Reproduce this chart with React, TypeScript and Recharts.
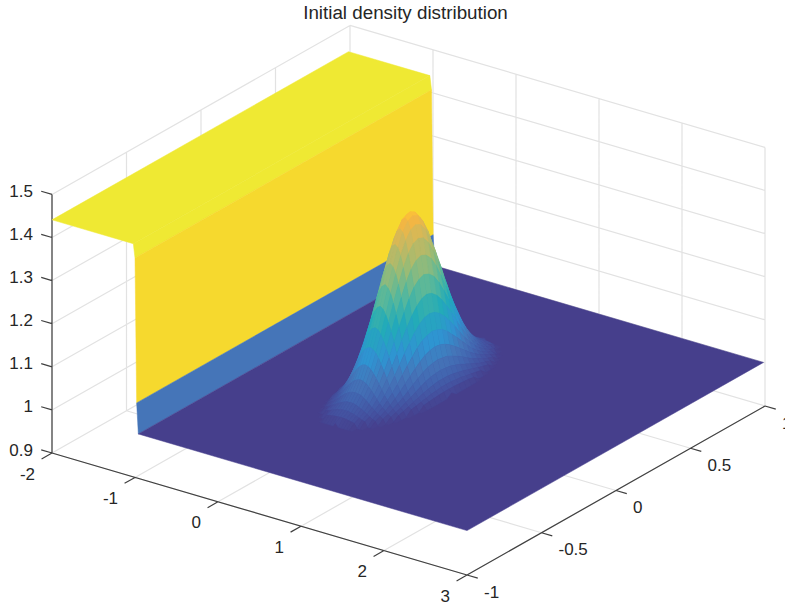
import React from 'react';
import { ScatterChart, Scatter, XAxis, YAxis } from 'recharts';

const title = 'Initial density distribution';
const xTicks = [-2, -1, 0, 1, 2, 3];
const yTicks = [-1, -0.5, 0, 0.5, 1];
const zTicks = [0.9, 1, 1.1, 1.2, 1.3, 1.4, 1.5];

// step profile of the surface along x (same for every y)
const stepX = [-2, -1.02, -1, -0.98, -0.96, 3];
const stepZ = [1.441, 1.441, 1.409, 1.074, 1.003, 1.003];
const surfaceY = [-1, 0.99];

// the bump is round, so one quarter of it is enough: rise above the flat part in 1/1000,
// rows going away from the centre along x, columns along y
const bumpCenter = { x: 0.5, y: 0.01 };
const bumpOffsets = [0, 0.033, 0.067, 0.1, 0.133, 0.167, 0.2, 0.233, 0.267, 0.3, 0.333, 0.367, 0.4, 0.433, 0.467, 0.5];
const bumpQuarter = [
  [400, 393, 374, 344, 306, 264, 220, 177, 138, 104, 76, 53, 36, 24, 15, 9],
  [393, 387, 368, 339, 301, 259, 216, 174, 135, 102, 74, 52, 36, 24, 15, 0],
  [374, 368, 350, 322, 287, 247, 205, 165, 129, 97, 71, 50, 34, 22, 14, 0],
  [344, 339, 322, 296, 264, 227, 189, 152, 119, 89, 65, 46, 31, 21, 13, 0],
  [306, 301, 287, 264, 235, 202, 168, 135, 105, 79, 58, 41, 28, 18, 12, 0],
  [264, 259, 247, 227, 202, 174, 145, 117, 91, 68, 50, 35, 24, 16, 10, 0],
  [220, 216, 205, 189, 168, 145, 120, 97, 76, 57, 41, 29, 20, 13, 0, 0],
  [177, 174, 165, 152, 135, 117, 97, 78, 61, 46, 33, 24, 16, 11, 0, 0],
  [138, 135, 129, 119, 105, 91, 76, 61, 47, 36, 26, 18, 12, 0, 0, 0],
  [104, 102, 97, 89, 79, 68, 57, 46, 36, 27, 20, 14, 9, 0, 0, 0],
  [76, 74, 71, 65, 58, 50, 41, 33, 26, 20, 14, 10, 0, 0, 0, 0],
  [53, 52, 50, 46, 41, 35, 29, 24, 18, 14, 10, 0, 0, 0, 0, 0],
  [36, 36, 34, 31, 28, 24, 20, 16, 12, 9, 0, 0, 0, 0, 0, 0],
  [24, 24, 22, 21, 18, 16, 13, 11, 0, 0, 0, 0, 0, 0, 0, 0],
  [15, 15, 14, 13, 12, 10, 0, 0, 0, 0, 0, 0, 0, 0, 0, 0],
  [9, 0, 0, 0, 0, 0, 0, 0, 0, 0, 0, 0, 0, 0, 0, 0],
];
const bumpBase = 1.003;

// colour ramp as it looks in the picture
const rampZ = [1.003, 1.02, 1.05, 1.074, 1.12, 1.18, 1.24, 1.3, 1.35, 1.392, 1.409, 1.441];
const rampColors = ['#463f8c', '#44519f', '#4268b2', '#4575b8', '#2f94d2', '#22abb8', '#5ab89a', '#a0bb72', '#d0b85c', '#fbb63e', '#f6d92e', '#efe933'];

const toRgb = (hex: string) => [1, 3, 5].map(i => parseInt(hex.slice(i, i + 2), 16));
const colorOf = (z: number) => {
  if (z <= rampZ[0]) return rampColors[0];
  for (let i = 1; i < rampZ.length; i++) {
    if (z <= rampZ[i]) {
      const t = (z - rampZ[i - 1]) / (rampZ[i] - rampZ[i - 1]);
      const a = toRgb(rampColors[i - 1]);
      const b = toRgb(rampColors[i]);
      return `rgb(${a.map((c, k) => Math.round(c + (b[k] - c) * t)).join(',')})`;
    }
  }
  return rampColors[rampColors.length - 1];
};

// the view of the 3D box, orthographic
const project = (x: number, y: number, z: number) => ({
  u: 52 + 83 * (x + 2) + 149 * (y + 1),
  v: 453 + 24.4 * (x + 2) - 84.5 * (y + 1) - 431 * (z - 0.9),
});

const noDot = () => <g />;
const fontFamily = '"Liberation Sans", Arial, sans-serif';

type Pt = { u: number; v: number; label?: string };

// pairs of points drawn as separate line segments
const segments = (key: string, pts: Pt[], stroke: string, width: number) => (
  <Scatter
    key={key}
    data={pts}
    isAnimationActive={false}
    shape={noDot}
    line={({ points }: any) => (
      <path
        d={points.reduce((d: string, p: any, i: number) => `${d}${i % 2 ? 'L' : 'M'}${p.x} ${p.y}`, '')}
        stroke={stroke}
        strokeWidth={width}
        fill="none"
      />
    )}
  />
);

// groups of four points drawn as filled faces
const faces = (key: string, pts: Pt[], colors: string[]) => (
  <Scatter
    key={key}
    data={pts}
    isAnimationActive={false}
    shape={noDot}
    line={({ points }: any) => (
      <g>
        {colors.map((c, i) => (
          <polygon
            key={i}
            points={points.slice(i * 4, i * 4 + 4).map((p: any) => `${p.x},${p.y}`).join(' ')}
            fill={c}
            stroke={c}
            strokeWidth={0.5}
          />
        ))}
      </g>
    )}
  />
);

const labels = (key: string, pts: Pt[], anchor: string, dx: number, dy: number, size: number) => (
  <Scatter
    key={key}
    data={pts}
    isAnimationActive={false}
    shape={(p: any) => (
      <text
        x={p.cx + dx}
        y={p.cy + dy}
        textAnchor={anchor}
        dominantBaseline="central"
        fontFamily={fontFamily}
        fontSize={size}
        fill="#262626"
      >
        {p.payload.label}
      </text>
    )}
  />
);

const gridPts: Pt[] = [];
const addSeg = (a: number[], b: number[]) => {
  gridPts.push(project(a[0], a[1], a[2]), project(b[0], b[1], b[2]));
};
zTicks.forEach(z => {
  addSeg([-2, -1, z], [-2, 1, z]);
  addSeg([-2, 1, z], [3, 1, z]);
});
xTicks.forEach(x => {
  addSeg([x, -1, 0.9], [x, 1, 0.9]);
  addSeg([x, 1, 0.9], [x, 1, 1.5]);
});
yTicks.forEach(y => {
  addSeg([-2, y, 0.9], [3, y, 0.9]);
  addSeg([-2, y, 0.9], [-2, y, 1.5]);
});

const axisPts: Pt[] = [
  project(-2, -1, 0.9), project(3, -1, 0.9),
  project(3, -1, 0.9), project(3, 1, 0.9),
  project(-2, -1, 0.9), project(-2, -1, 1.5),
];
xTicks.forEach(x => axisPts.push(project(x, -1, 0.9), project(x, -1.07, 0.9)));
yTicks.forEach(y => axisPts.push(project(3, y, 0.9), project(3.13, y, 0.9)));
zTicks.forEach(z => axisPts.push(project(-2, -1, z), project(-2.13, -1, z)));

const stepPts: Pt[] = [];
const stepColors: string[] = [];
stepX.slice(0, -1).forEach((x, i) => {
  stepPts.push(
    project(x, surfaceY[0], stepZ[i]),
    project(stepX[i + 1], surfaceY[0], stepZ[i + 1]),
    project(stepX[i + 1], surfaceY[1], stepZ[i + 1]),
    project(x, surfaceY[1], stepZ[i]),
  );
  stepColors.push(colorOf(stepZ[i]));
});

// signed index along one side of the bump: -15 .. 15
const steps = bumpOffsets.slice(1).map((_, i) => -(15 - i)).concat(bumpOffsets.map((_, i) => i));
const coord = (s: number) => (s < 0 ? -bumpOffsets[-s] : bumpOffsets[s]);
const rise = (a: number, b: number) => bumpBase + bumpQuarter[Math.abs(a)][Math.abs(b)] / 1000;

// far side first so the near faces cover it
const bumpPts: Pt[] = [];
const bumpColors: string[] = [];
for (let i = 0; i < steps.length - 1; i++) {
  for (let j = steps.length - 2; j >= 0; j--) {
    const [a0, a1, b0, b1] = [steps[i], steps[i + 1], steps[j], steps[j + 1]];
    const corners = [rise(a0, b0), rise(a1, b0), rise(a1, b1), rise(a0, b1)];
    if (Math.max(...corners) <= bumpBase) continue;
    const x0 = bumpCenter.x + coord(a0);
    const x1 = bumpCenter.x + coord(a1);
    const y0 = bumpCenter.y + coord(b0);
    const y1 = bumpCenter.y + coord(b1);
    bumpPts.push(
      project(x0, y0, corners[0]),
      project(x1, y0, corners[1]),
      project(x1, y1, corners[2]),
      project(x0, y1, corners[3]),
    );
    bumpColors.push(colorOf((corners[0] + corners[1] + corners[2] + corners[3]) / 4));
  }
}

const xLabels = xTicks.map(x => ({ ...project(x, -1, 0.9), label: String(x) }));
const yLabels = yTicks.map(y => ({ ...project(3, y, 0.9), label: String(y) }));
const zLabels = zTicks.map(z => ({ ...project(-2, -1, z), label: String(z) }));
const titlePoint = [{ u: 405.5, v: 12, label: title }];

const App: React.FC = () => (
  <div style={{ position: 'absolute', left: 0, top: 0, width: 785, height: 610 }}>
    <ScatterChart width={785} height={610} margin={{ top: 0, right: 0, bottom: 0, left: 0 }}>
      <XAxis type="number" dataKey="u" domain={[0, 785]} hide />
      <YAxis type="number" dataKey="v" domain={[0, 610]} reversed hide />
      {segments('grid', gridPts, '#e2e2e2', 1.2)}
      {segments('axes', axisPts, '#404040', 1.2)}
      {faces('step', stepPts, stepColors)}
      {faces('bump', bumpPts, bumpColors)}
      {labels('xl', xLabels, 'end', -17, 21, 17)}
      {labels('yl', yLabels, 'start', 17, 17, 17)}
      {labels('zl', zLabels, 'end', -19, -3, 17)}
      {labels('title', titlePoint, 'middle', 0, 0, 18.8)}
    </ScatterChart>
  </div>
);

export default App;
